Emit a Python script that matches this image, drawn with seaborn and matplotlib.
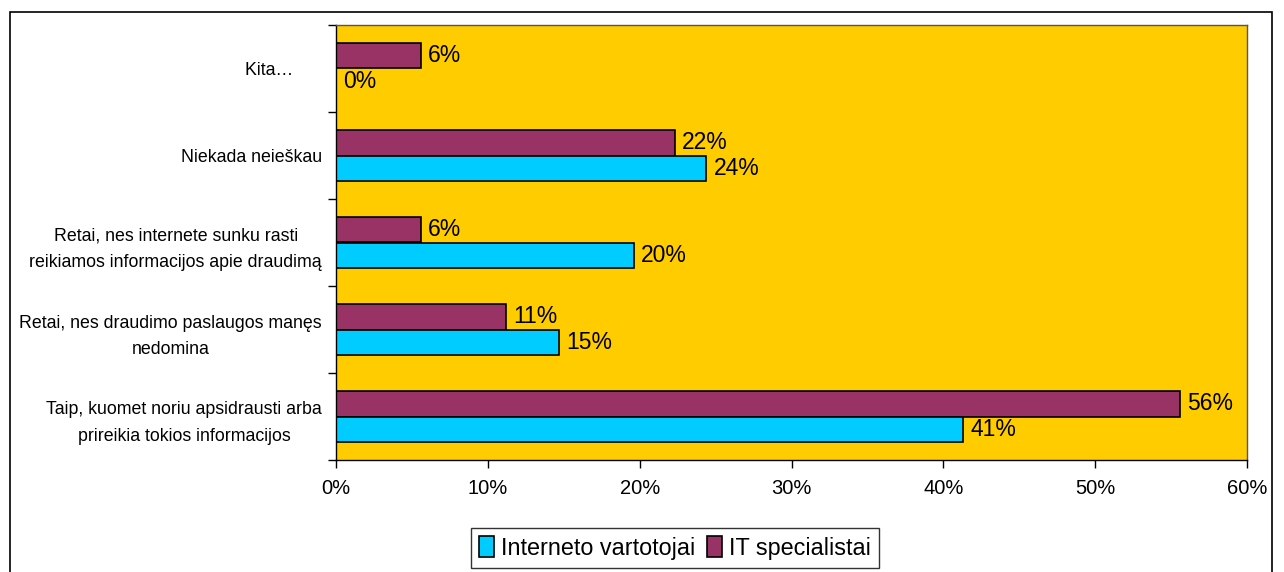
import matplotlib
matplotlib.use("Agg")
import matplotlib.pyplot as plt
import seaborn as sns
import pandas as pd
from matplotlib.patches import Rectangle, Patch

categories = [
    "Kita…      ",
    "Niekada neieškau",
    "Retai, nes internete sunku rasti\nreikiamos informacijos apie draudimą",
    "Retai, nes draudimo paslaugos manęs\nnedomina",
    "Taip, kuomet noriu apsidrausti arba\nprireikia tokios informacijos",
]
series_names = ["Interneto vartotojai", "IT specialistai"]
interneto = [0.0, 24.4, 19.6, 14.7, 41.3]
it_spec = [5.6, 22.3, 5.6, 11.2, 55.6]
xticks = [0, 10, 20, 30, 40, 50, 60]
xtick_labels = ["0%", "10%", "20%", "30%", "40%", "50%", "60%"]

colors = {"Interneto vartotojai": "#00CCFF", "IT specialistai": "#993366"}

df = pd.DataFrame({
    "cat": categories * 2,
    "val": interneto + it_spec,
    "series": [series_names[0]] * len(categories) + [series_names[1]] * len(categories),
})

sns.set_theme(style="white")
plt.rcParams["font.family"] = ["Liberation Sans", "DejaVu Sans"]
plt.rcParams["text.color"] = "black"
plt.rcParams["xtick.color"] = "black"
plt.rcParams["ytick.color"] = "black"
plt.rcParams["axes.labelcolor"] = "black"

fig = plt.figure(figsize=(12.84, 5.72), dpi=100)
fig.patch.set_facecolor("white")
ax = fig.add_axes([336/1284, 1-460/572, (1247-336)/1284, (460-25)/572])
ax.set_facecolor("#FFCC00")

sns.barplot(data=df, y="cat", x="val", hue="series", order=categories,
            hue_order=["IT specialistai", "Interneto vartotojai"],
            palette=colors, orient="h", width=0.575, edgecolor="black",
            linewidth=1.2, ax=ax, legend=False, saturation=1)

for cont in ax.containers:
    labels = [f"{round(b.get_width())}%" for b in cont]
    ax.bar_label(cont, labels=labels, padding=5, fontsize=16.5, color="black")

ax.set_xlim(0, 60)
ax.set_ylim(len(categories) - 0.5, -0.5)
ax.set_xticks(xticks)
ax.set_xticklabels(xtick_labels, fontsize=14.5)
ax.set_yticks(range(len(categories)))
ax.set_yticklabels(categories, fontsize=12.8, ha="right", multialignment="center",
                   linespacing=1.75)
ax.set_yticks([i - 0.5 for i in range(len(categories) + 1)], minor=True)
ax.tick_params(axis="y", which="major", length=0, pad=10)
ax.tick_params(axis="y", which="minor", length=6, width=1, color="black", left=True)
ax.tick_params(axis="x", which="major", length=6, width=1, color="black", bottom=True, pad=8)
ax.set_xlabel("")
ax.set_ylabel("")
for s in ax.spines.values():
    s.set_color("black")
    s.set_linewidth(1)
ax.spines["top"].set_color("#555555")
ax.spines["right"].set_color("#555555")

handles = [Patch(facecolor=colors[n], edgecolor="black", linewidth=1.2) for n in series_names]
leg = fig.legend(handles, series_names, loc="center", bbox_to_anchor=(675/1284, 1-548/572),
                 ncol=2, fontsize=16.8, frameon=True, fancybox=False, edgecolor="black",
                 handlelength=0.65, handleheight=1.0, handletextpad=0.3, columnspacing=0.5,
                 borderpad=0.35)
leg.get_frame().set_linewidth(1)

fig.patches.append(Rectangle((10/1284, -0.05), (1272-10)/1284, 1-12/572+0.05,
                             transform=fig.transFigure, fill=False, edgecolor="black",
                             linewidth=1.2))

fig.savefig("out.png", dpi=100)
